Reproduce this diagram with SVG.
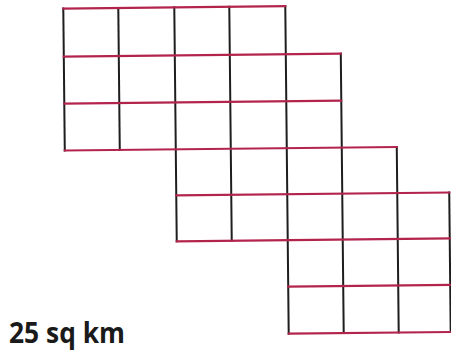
<svg xmlns="http://www.w3.org/2000/svg" width="451" height="352" viewBox="0 0 451 352">
<style>
.h{stroke:#b3244c;stroke-width:2.2;fill:none;stroke-linecap:square}
.v{stroke:#1e1e1e;stroke-width:2;fill:none;stroke-linecap:square}
.lbl{font-family:"Open Sans","Noto Sans","Liberation Sans",sans-serif;font-weight:bold;font-size:29px;fill:#1a1a1a}
</style>
<rect width="451" height="352" fill="#ffffff"/>
<g id="grid" transform="rotate(-0.6 257 170)">
<g id="verticals">
<line class="v" x1="65" y1="6.5" x2="65" y2="148.5"/>
<line class="v" x1="120" y1="6.5" x2="120" y2="148.5"/>
<line class="v" x1="176" y1="6.5" x2="176" y2="240.5"/>
<line class="v" x1="231" y1="6.5" x2="231" y2="240.5"/>
<line class="v" x1="287" y1="6.5" x2="287" y2="334"/>
<line class="v" x1="342" y1="54.5" x2="342" y2="334"/>
<line class="v" x1="397" y1="148.5" x2="397" y2="334"/>
<line class="v" x1="449" y1="194.5" x2="449" y2="334"/>
</g>
<g id="horizontals">
<line class="h" x1="65" y1="6.5" x2="287" y2="6.5"/>
<line class="h" x1="65" y1="54.5" x2="342" y2="54.5"/>
<line class="h" x1="65" y1="101.5" x2="342" y2="101.5"/>
<line class="h" x1="65" y1="148.5" x2="397" y2="148.5"/>
<line class="h" x1="176" y1="194.5" x2="449" y2="194.5"/>
<line class="h" x1="176" y1="240.5" x2="449" y2="240.5"/>
<line class="h" x1="287" y1="287" x2="449" y2="287"/>
<line class="h" x1="287" y1="334" x2="449" y2="334"/>
</g>
</g>
<text id="label" class="lbl" x="9" y="342.5" textLength="116" lengthAdjust="spacingAndGlyphs">25 sq km</text>
</svg>
